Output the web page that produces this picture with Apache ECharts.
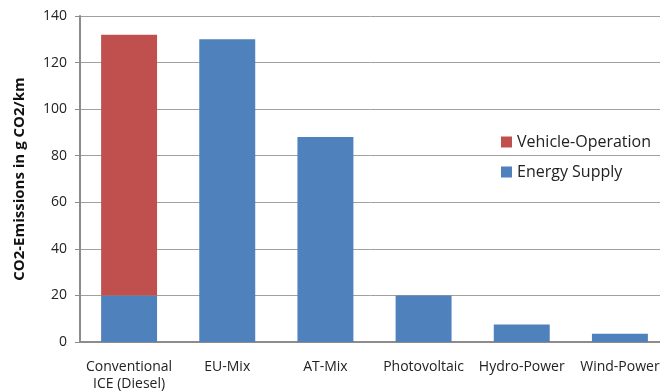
<!DOCTYPE html>
<html><head><meta charset="utf-8">
<script src="https://cdn.jsdelivr.net/npm/echarts@6/dist/echarts.min.js"></script>
<style>html,body{margin:0;padding:0;background:#fff}#c{width:660px;height:392px}</style>
</head><body><div id="c"></div>
<script>
const categories = ['Conventional\nICE (Diesel)', 'EU-Mix', 'AT-Mix', 'Photovoltaic', 'Hydro-Power', 'Wind-Power'];
const energySupply = [20, 130, 88, 20, 7.5, 3.5];
const vehicleOperation = [112, 0, 0, 0, 0, 0];
const yTicks = {min: 0, max: 140, interval: 20};
const FONT = 'Open Sans';
const chart = echarts.init(document.getElementById('c'));
chart.setOption({
  animation: false,
  textStyle: {fontFamily: FONT},
  grid: {left: 80, width: 589, top: 16, bottom: 50, containLabel: false, outerBoundsMode: 'none'},
  legend: {
    orient: 'vertical', left: 496, top: 129,
    data: ['Vehicle-Operation', 'Energy Supply'],
    itemWidth: 11, itemHeight: 11, itemGap: 14, icon: 'rect',
    textStyle: {fontFamily: FONT, fontSize: 16, color: '#222'}
  },
  xAxis: {
    type: 'category', data: categories,
    axisLine: {lineStyle: {color: '#8c8c8c', width: 2}},
    axisTick: {show: false},
    axisLabel: {fontFamily: FONT, fontSize: 14, color: '#222', margin: 17, lineHeight: 17, interval: 0}
  },
  yAxis: {
    type: 'value', min: yTicks.min, max: yTicks.max, interval: yTicks.interval,
    name: 'CO2-Emissions in g CO2/km', nameLocation: 'middle', nameGap: 53,
    nameTextStyle: {fontFamily: FONT, fontSize: 15, fontWeight: 'bold', color: '#111'},
    axisLine: {show: true, lineStyle: {color: '#8c8c8c', width: 2}},
    axisTick: {show: true, length: 5, inside: false, lineStyle: {color: '#8c8c8c'}},
    axisLabel: {fontFamily: FONT, fontSize: 14, color: '#222', margin: 13},
    splitLine: {lineStyle: {color: '#a0a0a0', width: 1}}
  },
  series: [
    {name: 'Energy Supply', type: 'bar', stack: 's', data: energySupply, barWidth: '57%', itemStyle: {color: '#4F81BD'}},
    {name: 'Vehicle-Operation', type: 'bar', stack: 's', data: vehicleOperation, barWidth: '57%', itemStyle: {color: '#C0504D'}}
  ]
});
</script></body></html>
